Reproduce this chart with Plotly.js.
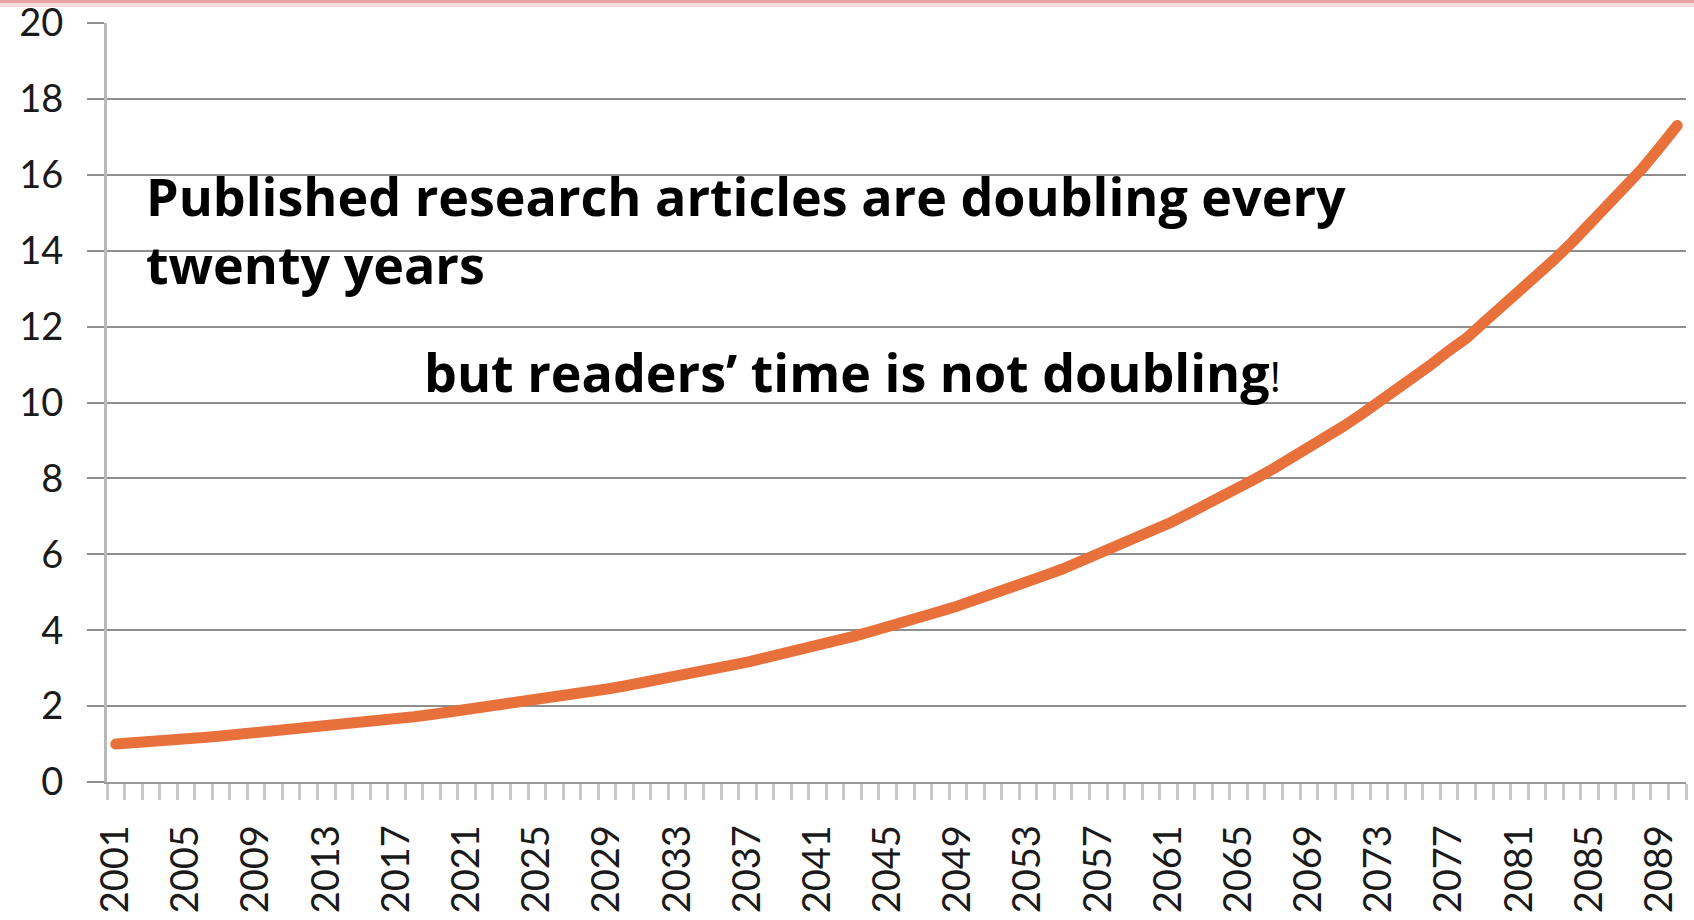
<!DOCTYPE html>
<html>
<head>
<meta charset="utf-8">
<script src="https://cdn.plot.ly/plotly-3.0.1.min.js"></script>
<style>
  html, body { margin: 0; padding: 0; background: #fff; }
  #chart { width: 1694px; height: 920px; }
  .js-line { stroke-linecap: round; stroke-linejoin: round; }
</style>
</head>
<body>
<div id="chart"></div>
<script>
// Years 2001..2090 (one category per year)
const years = [
  2001,2002,2003,2004,2005,2006,2007,2008,2009,2010,
  2011,2012,2013,2014,2015,2016,2017,2018,2019,2020,
  2021,2022,2023,2024,2025,2026,2027,2028,2029,2030,
  2031,2032,2033,2034,2035,2036,2037,2038,2039,2040,
  2041,2042,2043,2044,2045,2046,2047,2048,2049,2050,
  2051,2052,2053,2054,2055,2056,2057,2058,2059,2060,
  2061,2062,2063,2064,2065,2066,2067,2068,2069,2070,
  2071,2072,2073,2074,2075,2076,2077,2078,2079,2080,
  2081,2082,2083,2084,2085,2086,2087,2088,2089,2090
];
// Relative volume of published articles
const articles = [
  1.00,1.02,1.07,1.10,1.14,1.17,1.21,1.25,1.29,1.33,
  1.38,1.42,1.47,1.52,1.56,1.62,1.67,1.72,1.78,1.84,
  1.90,1.96,2.02,2.09,2.15,2.22,2.30,2.37,2.45,2.53,
  2.61,2.70,2.78,2.87,2.97,3.06,3.16,3.27,3.37,3.48,
  3.59,3.71,3.83,3.96,4.08,4.22,4.35,4.50,4.64,4.79,
  4.95,5.11,5.28,5.45,5.62,5.81,6.00,6.19,6.39,6.60,
  6.81,7.04,7.26,7.50,7.74,8.00,8.26,8.52,8.80,9.09,
  9.38,9.69,10.00,10.33,10.66,11.01,11.37,11.70,12.12,12.51,
  12.92,13.34,13.77,14.22,14.68,15.16,15.65,16.16,16.72,17.30
];
// Labelled ticks on the category axis
const tickYears = [2001,2005,2009,2013,2017,2021,2025,2029,2033,2037,2041,2045,2049,2053,2057,2061,2065,2069,2073,2077,2081,2085,2089];
const tickLabels = tickYears.map(String);
const yTicks = [0,2,4,6,8,10,12,14,16,18,20];

const headline = "Published research articles are doubling every<br>twenty years";
const subline = "but readers\u2019 time is not doubling<span style=\"font-weight:normal;font-size:42px\">!</span>";

const TICKFONT = "Lato, 'Open Sans', sans-serif";
const TEXTFONT = "'Open Sans', Lato, sans-serif";

const trace = {
  x: years,
  y: articles,
  type: 'scatter',
  mode: 'lines',
  line: { color: '#E8703A', width: 11 },
  hoverinfo: 'skip'
};

const layout = {
  width: 1694,
  height: 920,
  margin: { l: 107, r: 8, t: 23, b: 138, pad: 0 },
  paper_bgcolor: '#ffffff',
  plot_bgcolor: '#ffffff',
  showlegend: false,
  xaxis: {
    type: 'linear',
    range: [2000.5, 2090.5],
    tickmode: 'array',
    tickvals: tickYears,
    ticktext: tickLabels,
    tickangle: -90,
    ticks: '',
    showgrid: false,
    zeroline: false,
    showline: true,
    linecolor: '#9a9a9a',
    linewidth: 2,
    tickfont: { family: TICKFONT, size: 38, color: '#1a1a1a' },
    ticklabelstandoff: 26,
    ticklabeloverflow: 'allow',
    minor: {
      tickmode: 'linear',
      tick0: 2000.5,
      dtick: 1,
      ticks: 'outside',
      ticklen: 16,
      tickwidth: 3,
      tickcolor: '#c8c8c8',
      showgrid: false
    },
    fixedrange: true
  },
  yaxis: {
    range: [0, 20.0001],
    tickmode: 'array',
    tickvals: yTicks,
    ticktext: yTicks.map(String),
    showgrid: true,
    gridcolor: '#8e8e8e',
    gridwidth: 2,
    ticks: 'outside',
    ticklen: 17,
    tickwidth: 2,
    tickcolor: '#8e8e8e',
    zeroline: false,
    showline: true,
    linecolor: '#b8b8b8',
    linewidth: 3,
    tickfont: { family: TICKFONT, size: 38, color: '#1a1a1a' },
    ticklabelstandoff: 16,
    ticklabeloverflow: 'allow',
    fixedrange: true
  },
  shapes: [
    { type: 'rect', xref: 'paper', yref: 'paper',
      x0: -107/1579, x1: 1 + 8/1579, y0: 1 + 20/759, y1: 1 + 23/759,
      line: { width: 0 }, fillcolor: '#e9a3a3', layer: 'above' },
    { type: 'rect', xref: 'paper', yref: 'paper',
      x0: -107/1579, x1: 1 + 8/1579, y0: 1 + 16/759, y1: 1 + 20/759,
      line: { width: 0 }, fillcolor: '#f6dcdc', layer: 'above' }
  ],
  annotations: [
    { xref: 'paper', yref: 'paper', x: (144-107)/1579, y: (782-158)/759,
      xanchor: 'left', yanchor: 'top', align: 'left', showarrow: false,
      text: headline,
      font: { family: TEXTFONT, size: 52, color: '#000000', weight: 700 } },
    { xref: 'paper', yref: 'paper', x: (422-107)/1579, y: (782-334)/759,
      xanchor: 'left', yanchor: 'top', align: 'left', showarrow: false,
      text: subline,
      font: { family: TEXTFONT, size: 52, color: '#000000', weight: 700 } }
  ]
};

Plotly.newPlot('chart', [trace], layout, { displayModeBar: false, staticPlot: true });
</script>
</body>
</html>
